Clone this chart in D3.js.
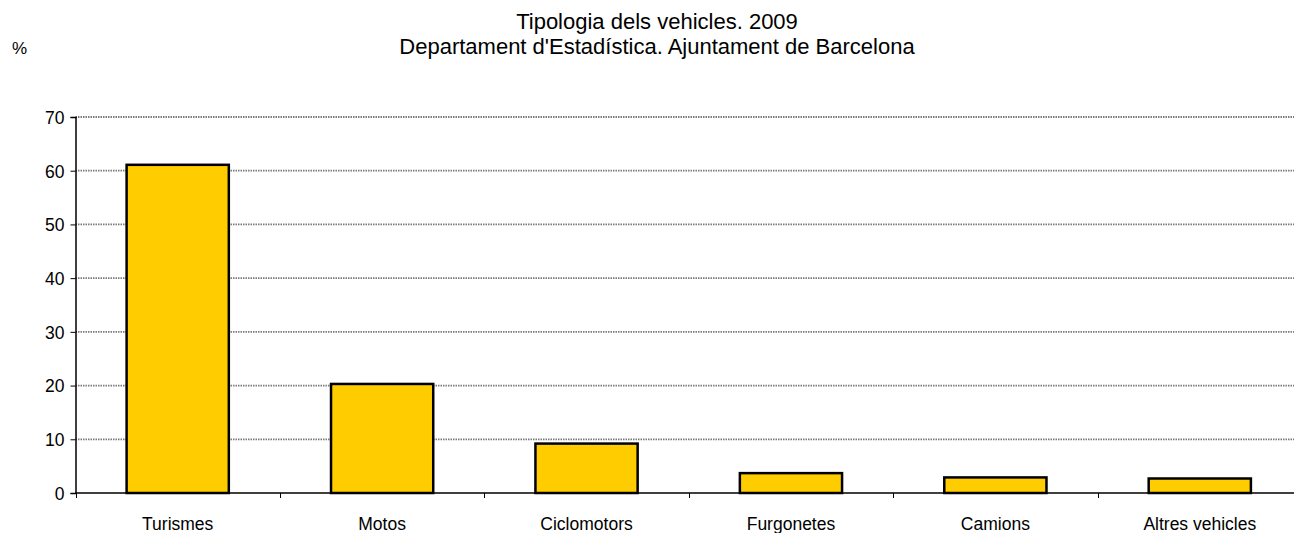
<!DOCTYPE html>
<html>
<head>
<meta charset="utf-8">
<script src="https://cdn.jsdelivr.net/npm/d3@7"></script>
<style>
  body { margin: 0; background: #fff; }
  svg { display: block; font-family: Arial, "Liberation Sans", sans-serif; }
</style>
</head>
<body>
<div id="chart"></div>
<script>
const width = 1294
const height = 533

// chart data
const categories = ["Turismes", "Motos", "Ciclomotors", "Furgonetes", "Camions", "Altres vehicles"]
const values = [61.1, 20.3, 9.2, 3.7, 2.9, 2.7]
const yTicks = [0, 10, 20, 30, 40, 50, 60, 70]
const titleLines = ["Tipologia dels vehicles. 2009", "Departament d'Estadística. Ajuntament de Barcelona"]

const plot = { left: 75.5, right: 1302, top: 117, bottom: 493 }

const svg = d3.select("#chart").append("svg")
    .attr("width", width)
    .attr("height", height)

const x = d3.scaleBand()
    .domain(categories)
    .range([plot.left, plot.right])
    .padding(0)

const y = d3.scaleLinear()
    .domain([0, 70])
    .range([plot.bottom, plot.top])

// title
svg.append("text")
    .attr("x", 657)
    .attr("y", 29)
    .attr("text-anchor", "middle")
    .style("font-size", "22px")
    .text(titleLines[0])

svg.append("text")
    .attr("x", 657)
    .attr("y", 54)
    .attr("text-anchor", "middle")
    .style("font-size", "22px")
    .text(titleLines[1])

svg.append("text")
    .attr("x", 12)
    .attr("y", 54)
    .style("font-size", "17px")
    .text("%")

// gridlines
svg.append("g")
    .selectAll("line")
    .data(yTicks.filter(function(d) { return d > 0 }))
    .enter().append("line")
    .attr("x1", plot.left)
    .attr("x2", plot.right)
    .attr("y1", function(d) { return y(d) })
    .attr("y2", function(d) { return y(d) })
    .attr("stroke", "#7a7a7a")
    .attr("stroke-width", 1.8)
    .attr("stroke-dasharray", "1.5 1")

// y axis
const yAxis = svg.append("g")
    .attr("transform", "translate(" + plot.left + ",0)")
    .call(d3.axisLeft(y).tickValues(yTicks).tickSize(5).tickPadding(6))
yAxis.select(".domain").attr("stroke", "#000").attr("stroke-width", 1.5)
yAxis.selectAll(".tick line").attr("stroke", "#000")
yAxis.selectAll("text")
    .style("font-size", "17.5px")
    .attr("fill", "#000")
    .attr("font-family", "Arial, 'Liberation Sans', sans-serif")
    .attr("dy", "0.36em")

// bars
svg.append("g")
    .selectAll("rect")
    .data(categories)
    .enter().append("rect")
    .attr("x", function(d) { return x(d) + x.bandwidth() / 4 })
    .attr("width", x.bandwidth() / 2)
    .attr("y", function(d, i) { return y(values[i]) })
    .attr("height", function(d, i) { return y(0) - y(values[i]) })
    .attr("fill", "#ffcc00")
    .attr("stroke", "#000")
    .attr("stroke-width", 2.5)

// x axis baseline and ticks between categories
svg.append("line")
    .attr("x1", plot.left)
    .attr("x2", plot.right)
    .attr("y1", plot.bottom)
    .attr("y2", plot.bottom)
    .attr("stroke", "#000")
    .attr("stroke-width", 1.5)

svg.append("g")
    .selectAll("line")
    .data(categories)
    .enter().append("line")
    .attr("x1", function(d) { return Math.round(x(d)) + 0.5 })
    .attr("x2", function(d) { return Math.round(x(d)) + 0.5 })
    .attr("y1", plot.bottom)
    .attr("y2", plot.bottom + 5)
    .attr("stroke", "#000")

svg.append("g")
    .selectAll("text")
    .data(categories)
    .enter().append("text")
    .attr("x", function(d) { return x(d) + x.bandwidth() / 2 })
    .attr("y", 530)
    .attr("text-anchor", "middle")
    .style("font-size", "17.5px")
    .text(function(d) { return d })
</script>
</body>
</html>
